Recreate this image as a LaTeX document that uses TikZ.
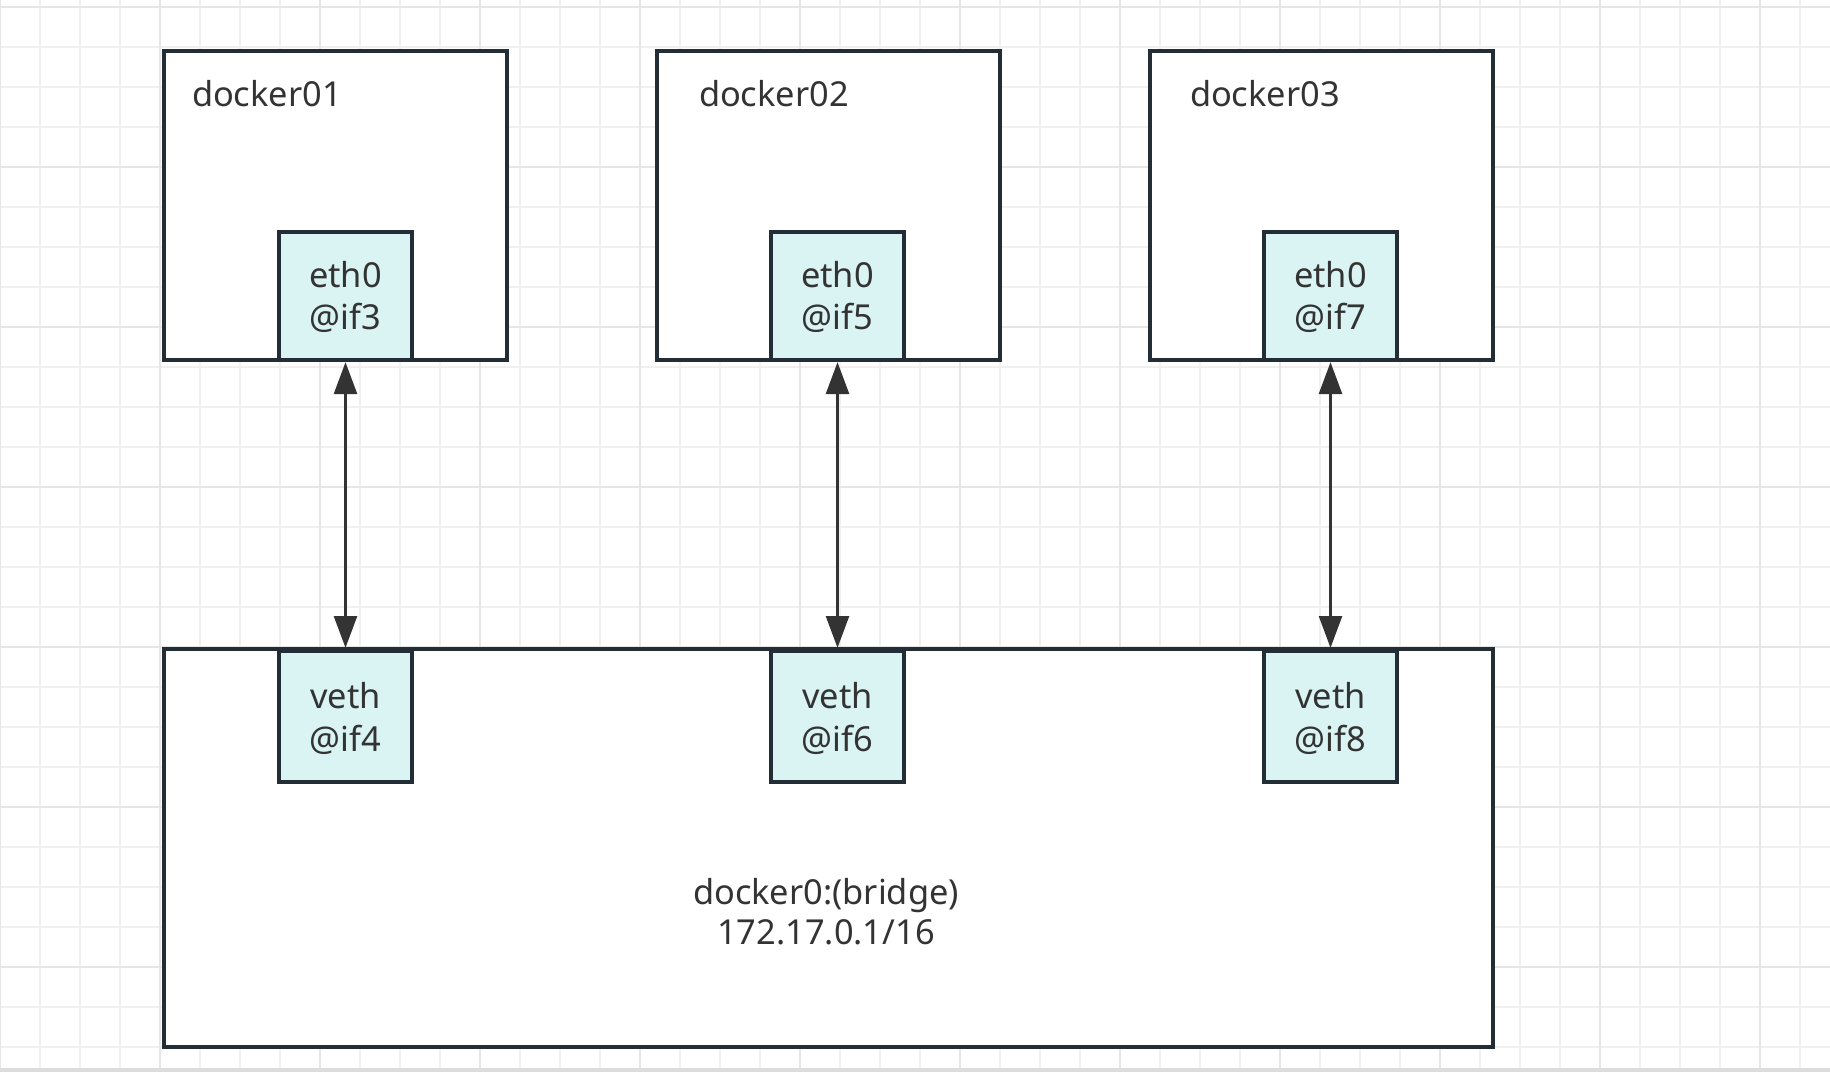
\documentclass[tikz,border=0pt]{standalone}
\usepackage{fontspec}
\setmainfont{Noto Sans}
\usetikzlibrary{arrows.meta}
\definecolor{gridminor}{HTML}{F0F0F0}
\definecolor{gridmajor}{HTML}{E6E6E6}
\definecolor{strokec}{HTML}{232D35}
\definecolor{ifacefill}{HTML}{DAF3F3}
\definecolor{txt}{HTML}{333333}
\definecolor{arrowc}{HTML}{333333}
\definecolor{stripc}{HTML}{DCDCDC}
\begin{document}
\begin{tikzpicture}[x=0.5pt,y=-0.5pt,
  container/.style={draw=strokec,fill=white,line width=1.75pt,inner sep=0pt,outer sep=0pt,
    minimum width=171.5pt,minimum height=154.5pt},
  iface/.style={draw=strokec,fill=ifacefill,line width=1.75pt,inner sep=0pt,outer sep=0pt,
    minimum width=66.5pt},
  lbl/.style={inner sep=0pt,outer sep=0pt,text=txt,font=\fontsize{17.2}{20.5}\selectfont},
  link/.style={draw=arrowc,line width=1.9pt,
    {Triangle[length=16pt,width=11.3pt]}-{Triangle[length=16pt,width=11.3pt]},
    shorten <=1pt,shorten >=1.5pt}
]
\useasboundingbox (0,0) rectangle (1830,1072);
\fill[white] (0,0) rectangle (1830,1072);
% grid
\foreach \x in {0,40,...,1800} \draw[gridminor,line width=1pt] (\x,0) -- (\x,1068);
\foreach \k in {0,...,26} \draw[gridminor,line width=1pt] (0,6.67+40*\k) -- (1830,6.67+40*\k);
\foreach \x in {0,160,...,1760} \draw[gridmajor,line width=1pt] (\x,0) -- (\x,1068);
\foreach \k in {0,...,6} \draw[gridmajor,line width=1pt] (0,6.67+160*\k) -- (1830,6.67+160*\k);
\fill[stripc] (0,1068) rectangle (1830,1072);

% containers
\node[container] (d1) at (335.5,205.5) {};
\node[container] (d2) at (828.5,205.5) {};
\node[container] (d3) at (1321.5,205.5) {};
\node[lbl,anchor=base west] (d1t) at (192,106.5) {docker01};
\node[lbl,anchor=base west] (d2t) at (699,106) {docker02};
\node[lbl,anchor=base west] (d3t) at (1190,106) {docker03};

% bridge
\node[draw=strokec,fill=white,line width=1.75pt,inner sep=0pt,outer sep=0pt,
  minimum width=664.5pt,minimum height=199pt] (br) at (828.5,848) {};
\node[lbl,anchor=base] (brt1) at (826,904.3) {docker0:(bridge)};
\node[lbl,anchor=base] (brt2) at (826,944.3) {172.17.0.1/16};

% eth interfaces
\node[iface,minimum height=64pt] (e1) at (345.5,296) {};
\node[iface,minimum height=64pt] (e2) at (837.5,296) {};
\node[iface,minimum height=64pt] (e3) at (1330.5,296) {};
\node[lbl,anchor=base] (e1a) at (345.5,287.7) {eth0};
\node[lbl,anchor=base] (e1b) at (345.5,329) {@if3};
\node[lbl,anchor=base] (e2a) at (837.5,287.7) {eth0};
\node[lbl,anchor=base] (e2b) at (837.5,329) {@if5};
\node[lbl,anchor=base] (e3a) at (1330.5,287.7) {eth0};
\node[lbl,anchor=base] (e3b) at (1330.5,329) {@if7};

% veth interfaces
\node[iface,minimum height=65.5pt] (v1) at (345.5,716.5) {};
\node[iface,minimum height=65.5pt] (v2) at (837.5,716.5) {};
\node[iface,minimum height=65.5pt] (v3) at (1330.5,716.5) {};
\node[lbl,anchor=base] (v1a) at (345.5,708.3) {veth};
\node[lbl,anchor=base] (v1b) at (345.5,751) {@if4};
\node[lbl,anchor=base] (v2a) at (837.5,708.3) {veth};
\node[lbl,anchor=base] (v2b) at (837.5,751) {@if6};
\node[lbl,anchor=base] (v3a) at (1330.5,708.3) {veth};
\node[lbl,anchor=base] (v3b) at (1330.5,751) {@if8};

% links
\draw[link] (e1.south) -- (v1.north);
\draw[link] (e2.south) -- (v2.north);
\draw[link] (e3.south) -- (v3.north);
\end{tikzpicture}
\end{document}
